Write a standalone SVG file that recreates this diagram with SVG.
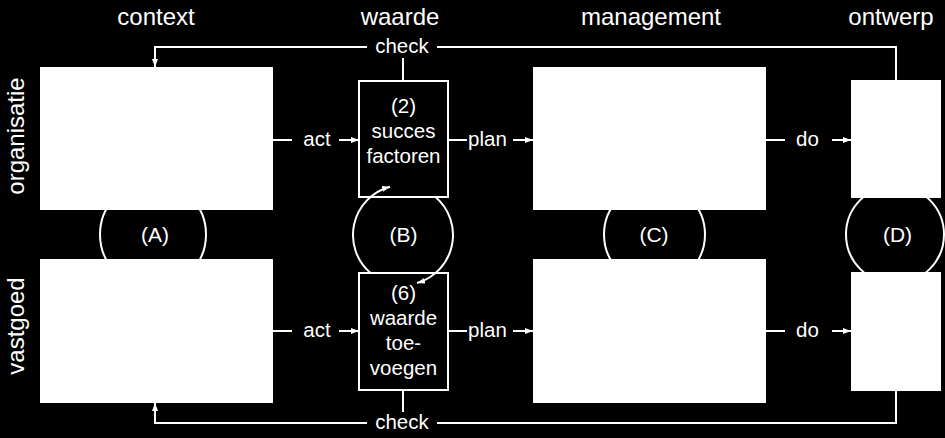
<svg xmlns="http://www.w3.org/2000/svg" width="945" height="438" viewBox="0 0 945 438">
<style>
text{font-family:"Liberation Sans",Arial,sans-serif;fill:#fff}
.h{font-size:24px;text-anchor:middle}
.l{font-size:20.5px;text-anchor:middle}
.c{font-size:21px;text-anchor:middle}
.solid{fill:#fff;stroke:none}
.open{fill:#000;stroke:#fff;stroke-width:2}
.ring{fill:none;stroke:#fff;stroke-width:2}
.conn path{fill:none;stroke:#fff;stroke-width:2}
</style>
<defs>
<marker id="ah" markerUnits="userSpaceOnUse" markerWidth="9" markerHeight="7" refX="8" refY="3" orient="auto">
<path d="M0,0 L8,3 L0,6 z" fill="#fff"/>
</marker>
</defs>
<rect width="945" height="438" fill="#000"/>
<g id="headers">
<text class="h" x="156" y="25">context</text>
<text class="h" x="400" y="25">waarde</text>
<text class="h" x="651" y="25">management</text>
<text class="h" x="891" y="25">ontwerp</text>
</g>
<g id="rowlabels">
<text class="h" transform="translate(24,136) rotate(-90)">organisatie</text>
<text class="h" transform="translate(24,326) rotate(-90)">vastgoed</text>
</g>
<g id="circles">
<circle class="ring" cx="153" cy="234.5" r="53"/>
<circle class="ring" cx="654.5" cy="234.5" r="50.5"/>
<circle class="ring" cx="895" cy="234.5" r="49"/>
</g>
<g id="context-org"><rect class="solid" x="40" y="67" width="233" height="143"/></g>
<g id="context-vg"><rect class="solid" x="40" y="259" width="233" height="144"/></g>
<g id="mgmt-org"><rect class="solid" x="533" y="67" width="233" height="143"/></g>
<g id="mgmt-vg"><rect class="solid" x="533" y="259" width="233" height="144"/></g>
<g id="ontwerp-org"><rect class="solid" x="851" y="80" width="90" height="118"/></g>
<g id="ontwerp-vg"><rect class="solid" x="851" y="272" width="90" height="119"/></g>
<g id="succesfactoren">
<rect class="open" x="359" y="81" width="89" height="116"/>
<text class="l" x="403.5" y="113">(2)</text>
<text class="l" x="403.5" y="138">succes</text>
<text class="l" x="403.5" y="163">factoren</text>
</g>
<g id="waardetoevoegen">
<rect class="open" x="359" y="273" width="89" height="117"/>
<text class="l" x="403.5" y="300">(6)</text>
<text class="l" x="403.5" y="325">waarde</text>
<text class="l" x="403.5" y="350">toe-</text>
<text class="l" x="403.5" y="375">voegen</text>
</g>
<g id="circle-labels">
<text class="c" x="155" y="242">(A)</text>
<text class="c" x="403.5" y="242">(B)</text>
<text class="c" x="654" y="242">(C)</text>
<text class="c" x="897.5" y="242">(D)</text>
</g>
<g class="conn" id="connectors">
<path d="M370.5,273 A50,50 0 0 1 390,186.7" marker-end="url(#ah)"/>
<path d="M435.5,197 A50,50 0 0 1 417,283" marker-end="url(#ah)"/>
<path d="M367,47 H155 V67" marker-end="url(#ah)"/>
<path d="M437,47 H896 V80"/>
<path d="M403,58 V81"/>
<path d="M367,423 H155 V403" marker-end="url(#ah)"/>
<path d="M437,423 H896 V391"/>
<path d="M403,390 V412"/>
<path d="M273,140 H292"/>
<path d="M339,140 H359" marker-end="url(#ah)"/>
<path d="M273,331 H292"/>
<path d="M339,331 H359" marker-end="url(#ah)"/>
<path d="M448,140 H467"/>
<path d="M513,140 H533" marker-end="url(#ah)"/>
<path d="M448,331 H467"/>
<path d="M513,331 H533" marker-end="url(#ah)"/>
<path d="M766,140 H785"/>
<path d="M832,140 H851" marker-end="url(#ah)"/>
<path d="M766,331 H785"/>
<path d="M832,331 H851" marker-end="url(#ah)"/>
</g>
<g id="connector-labels">
<text class="l" x="402" y="53">check</text>
<text class="l" x="402" y="429">check</text>
<text class="l" x="317" y="145.5">act</text>
<text class="l" x="317" y="336.5">act</text>
<text class="l" x="487.5" y="145.5">plan</text>
<text class="l" x="487.5" y="336.5">plan</text>
<text class="l" x="807.5" y="145.5">do</text>
<text class="l" x="807.5" y="336.5">do</text>
</g>
</svg>
